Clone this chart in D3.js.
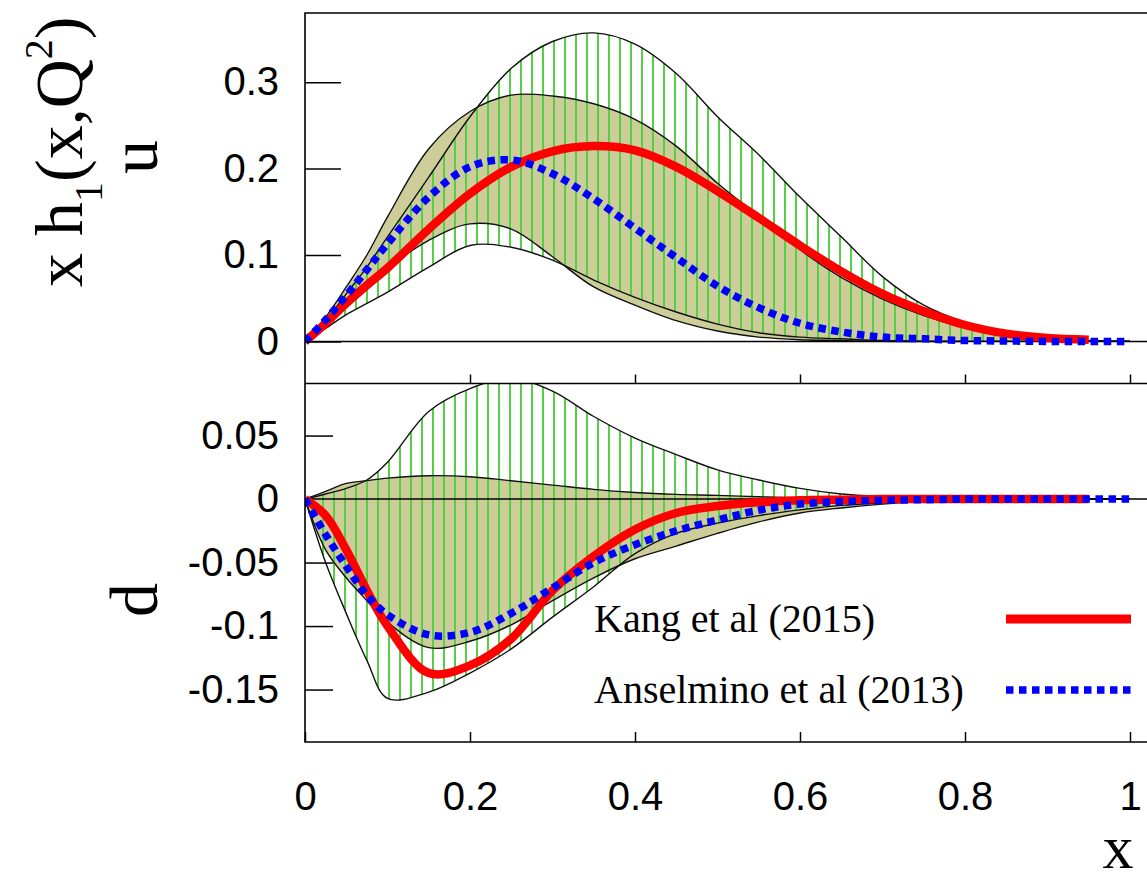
<!DOCTYPE html>
<meta charset="utf-8">
<script src="https://cdn.jsdelivr.net/npm/d3@7"></script>
<style>
	body{margin:0;background:#fff;}
	.tick text{font-family:"Liberation Sans",Helvetica,Arial,sans-serif;font-size:40px;fill:#000;}
	.serif{font-family:"Liberation Serif","Times New Roman",serif;fill:#000;}
</style>
<div id='chart'></div>
<script>
// x grid shared by all curves
var xs = [0, 0.025, 0.05, 0.075, 0.1, 0.15, 0.2, 0.25, 0.3, 0.35, 0.4, 0.45, 0.5, 0.55, 0.6, 0.65, 0.7, 0.75, 0.8, 0.85, 0.9, 0.95, 1.0]

// u quark (top panel)
var uKangHi = [0, 0.024, 0.055, 0.086, 0.121, 0.19, 0.26, 0.316, 0.347, 0.357, 0.344, 0.31, 0.26, 0.216, 0.167, 0.121, 0.075, 0.042, 0.022, 0.008, 0.002, 0.0005, 0]
var uKangLo = [0, 0.015, 0.031, 0.044, 0.057, 0.086, 0.111, 0.109, 0.094, 0.071, 0.051, 0.034, 0.02, 0.01, 0.005, 0.003, 0.001, 0, 0, 0, 0, 0, 0]
var uAnsHi  = [0, 0.028, 0.063, 0.1, 0.144, 0.223, 0.266, 0.285, 0.284, 0.275, 0.257, 0.226, 0.183, 0.145, 0.106, 0.074, 0.049, 0.03, 0.016, 0.007, 0.002, 0.001, 0]
var uAnsLo  = [0, 0.0185, 0.04, 0.061, 0.084, 0.117, 0.136, 0.13, 0.098, 0.063, 0.042, 0.024, 0.012, 0.005, 0.002, 0.001, 0, 0, 0, 0, 0, 0, 0]
var uKang   = [0, 0.021, 0.044, 0.065, 0.085, 0.13, 0.171, 0.202, 0.22, 0.226, 0.221, 0.202, 0.174, 0.143, 0.111, 0.081, 0.055, 0.035, 0.019, 0.009, 0.004, 0.002, null]
var uAns    = [0, 0.025, 0.053, 0.083, 0.113, 0.167, 0.202, 0.21, 0.194, 0.165, 0.131, 0.097, 0.064, 0.039, 0.021, 0.011, 0.005, 0.003, 0.001, 0.0005, 0, 0, 0]

// d quark (bottom panel)
var dKangHi = [0, 0.004, 0.0084, 0.015, 0.029, 0.069, 0.087, 0.095, 0.085, 0.065, 0.048, 0.035, 0.023, 0.015, 0.0084, 0.004, 0.002, 0.001, 0.0005, 0, 0, 0, 0]
var dKangLo = [0, -0.05, -0.09, -0.127, -0.157, -0.152, -0.137, -0.118, -0.093, -0.069, -0.043, -0.027, -0.019, -0.013, -0.0085, -0.005, -0.003, -0.0015, -0.0007, -0.0003, 0, 0, 0]
var dAnsHi  = [0, 0.006, 0.0123, 0.0145, 0.0165, 0.0184, 0.0176, 0.0144, 0.011, 0.0076, 0.0052, 0.0037, 0.0029, 0.0018, 0.0008, 0.0003, 0, 0, 0, 0, 0, 0, 0]
var dAnsLo  = [0, -0.04, -0.062, -0.08, -0.097, -0.117, -0.112, -0.099, -0.08, -0.062, -0.047, -0.037, -0.027, -0.018, -0.011, -0.007, -0.004, -0.002, -0.001, -0.0004, 0, 0, 0]
var dKang   = [0, -0.013, -0.04, -0.072, -0.1, -0.137, -0.131, -0.11, -0.072, -0.045, -0.024, -0.011, -0.0055, -0.0026, -0.001, -0.0005, 0, 0, 0, 0, 0, 0, null]
var dAns    = [0, -0.028, -0.053, -0.0756, -0.091, -0.107, -0.105, -0.09, -0.07, -0.05, -0.036, -0.025, -0.0165, -0.0087, -0.0039, -0.002, -0.001, -0.0005, 0, 0, 0, 0, 0]

var xTicks = [0, 0.2, 0.4, 0.6, 0.8, 1]
var uTicks = [0, 0.1, 0.2, 0.3]
var dTicks = [0.05, 0, -0.05, -0.1, -0.15]
var legendNames = ["Kang et al (2015)", "Anselmino et al (2013)"]

var width = 1147
var height = 888
var left = 305, right = 1160
var olive = "#cdcd9a", green = "#55d044"

var svg = d3.select("#chart").append("svg")
	.attr("width", width)
	.attr("height", height)

var x = d3.scaleLinear().domain([0, 1]).range([305, 1130])
var yTop = d3.scaleLinear().domain([-0.0487, 0.38]).range([383.5, 13])
var yBot = d3.scaleLinear().domain([-0.1913, 0.0906]).range([742, 384])

var defs = svg.append("defs")
var pat = defs.append("pattern").attr("id", "hatch")
	.attr("patternUnits", "userSpaceOnUse")
	.attr("x", 311).attr("y", 0).attr("width", 11).attr("height", 10)
pat.append("rect").attr("x", 0).attr("y", 0).attr("width", 2).attr("height", 10).attr("fill", green)

function rows(lo, hi) {
	return xs.map(function(d, i) { return {x: d, lo: lo[i], hi: hi[i]} })
}
function pts(vals) {
	return xs.map(function(d, i) { return {x: d, v: vals[i]} })
}

var curve = d3.curveCatmullRom.alpha(0.5)

function drawPanel(id, y, kLo, kHi, aLo, aHi, kang, ans) {
	var top = y.range()[1], bot = y.range()[0]
	defs.append("clipPath").attr("id", id)
		.append("rect").attr("x", left).attr("y", top).attr("width", right - left).attr("height", bot - top)
	var g = svg.append("g").attr("clip-path", "url(#" + id + ")")

	var area = d3.area().curve(curve)
		.x(function(d) { return x(d.x) })
		.y0(function(d) { return y(d.lo) })
		.y1(function(d) { return y(d.hi) })
	var line = d3.line().curve(curve)
		.defined(function(d) { return d.v != null })
		.x(function(d) { return x(d.x) })
		.y(function(d) { return y(d.v) })

	g.append("path").datum(rows(aLo, aHi)).attr("d", area).attr("fill", olive)
	g.append("path").datum(rows(kLo, kHi)).attr("d", area).attr("fill", "url(#hatch)")
	;[aLo, aHi, kLo, kHi].forEach(function(s) {
		g.append("path").datum(pts(s)).attr("d", line)
			.attr("fill", "none").attr("stroke", "#111").attr("stroke-width", 1.4)
	})
	// zero line
	g.append("line").attr("x1", left).attr("x2", right)
		.attr("y1", y(0)).attr("y2", y(0)).attr("stroke", "#000").attr("stroke-width", 1.5)

	g.append("path").datum(pts(kang)).attr("d", line)
		.attr("fill", "none").attr("stroke", "#ff0000").attr("stroke-width", 8.5)
	g.append("path").datum(pts(ans)).attr("d", line)
		.attr("fill", "none").attr("stroke", "#0000ff").attr("stroke-width", 7.5)
		.attr("stroke-dasharray", "7.5,5.5")
}

drawPanel("clipU", yTop, uKangLo, uKangHi, uAnsLo, uAnsHi, uKang, uAns)
drawPanel("clipD", yBot, dKangLo, dKangHi, dAnsLo, dAnsHi, dKang, dAns)

// frame
svg.append("path")
	.attr("d", "M" + right + ",13H" + left + "V742H" + right + "M" + left + ",383.5H" + right)
	.attr("fill", "none").attr("stroke", "#000").attr("stroke-width", 1.6)

// axes
function fmt(d) { return String(d) }
var ga = svg.append("g").attr("transform", "translate(" + left + ",0)")
	.call(d3.axisLeft(yTop).tickValues(uTicks).tickSize(-36).tickPadding(26).tickFormat(fmt))
var gb = svg.append("g").attr("transform", "translate(" + left + ",0)")
	.call(d3.axisLeft(yBot).tickValues(dTicks).tickSize(-28).tickPadding(26).tickFormat(fmt))
var gc = svg.append("g").attr("transform", "translate(0,383.5)")
	.call(d3.axisBottom(x).tickValues(xTicks.slice(1)).tickSize(-9).tickFormat(""))
var gd = svg.append("g").attr("transform", "translate(0,742)")
	.call(d3.axisBottom(x).tickValues(xTicks).tickSize(-10).tickPadding(40).tickFormat(fmt))
;[ga, gb, gc, gd].forEach(function(a) {
	a.select(".domain").remove()
	a.selectAll(".tick line").attr("stroke", "#000").attr("stroke-width", 1.5)
	a.attr("font-size", null).attr("font-family", null)
})
gb.selectAll(".tick").filter(function(d) { return d == 0 }).select("line").remove()

// axis titles
var yl = svg.append("text").attr("class", "serif").attr("font-size", 68)
	.attr("transform", "translate(82,287) rotate(-90)")
yl.append("tspan").text("x h")
yl.append("tspan").attr("font-size", 40).attr("dy", 20).text("1")
yl.append("tspan").attr("dy", -20).text("(x,Q")
yl.append("tspan").attr("font-size", 40).attr("dy", -30).text("2")
yl.append("tspan").attr("dy", 30).text(")")

svg.append("text").attr("class", "serif").attr("font-size", 68).attr("text-anchor", "middle")
	.attr("transform", "translate(157,157) rotate(-90)").text("u")
svg.append("text").attr("class", "serif").attr("font-size", 68).attr("text-anchor", "middle")
	.attr("transform", "translate(157,600) rotate(-90)").text("d")
svg.append("text").attr("class", "serif").attr("font-size", 62).attr("text-anchor", "middle")
	.attr("x", 1118).attr("y", 868).text("x")

// legend
var lg = svg.append("g")
lg.selectAll("text").data(legendNames).enter().append("text")
	.attr("class", "serif").attr("font-size", 40)
	.attr("x", 594).attr("y", function(d, i) { return 632 + i * 71 })
	.text(function(d) { return d })
lg.append("line").attr("x1", 1006).attr("x2", 1131).attr("y1", 619).attr("y2", 619)
	.attr("stroke", "#ff0000").attr("stroke-width", 9)
lg.append("line").attr("x1", 1006).attr("x2", 1131).attr("y1", 690).attr("y2", 690)
	.attr("stroke", "#0000ff").attr("stroke-width", 7.5).attr("stroke-dasharray", "7.5,5.5")
</script>
